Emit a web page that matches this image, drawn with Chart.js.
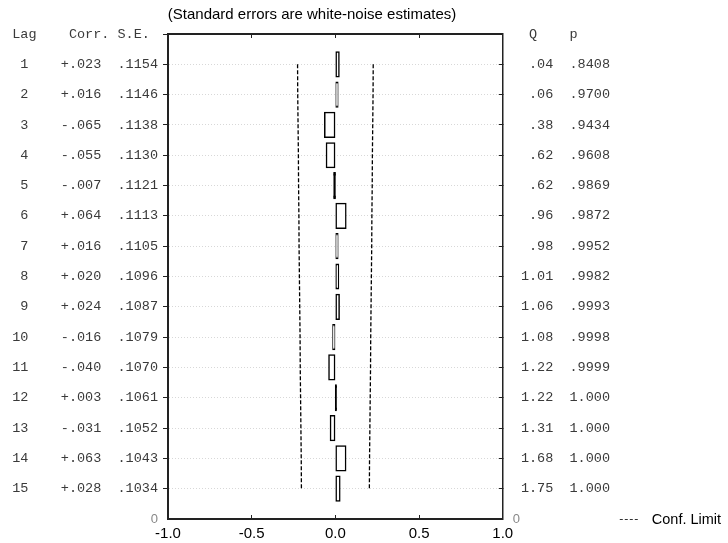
<!DOCTYPE html>
<html>
<head>
<meta charset="utf-8">
<title>Autocorrelation function</title>
<script src="https://cdn.jsdelivr.net/npm/chart.js@4.4.1/dist/chart.umd.min.js"></script>
<style>
  html, body { margin: 0; padding: 0; background: #fff; }
  #wrap { width: 728px; height: 543px; }
</style>
</head>
<body>
<div id="wrap"><canvas id="acfChart" width="728" height="543"></canvas></div>
<script>
// ---- data ----
const lags = [1, 2, 3, 4, 5, 6, 7, 8, 9, 10, 11, 12, 13, 14, 15];
const corr = [0.023, 0.016, -0.065, -0.055, -0.007, 0.064, 0.016, 0.020, 0.024, -0.016, -0.040, 0.003, -0.031, 0.063, 0.028];
const stdErr = [0.1154, 0.1146, 0.1138, 0.1130, 0.1121, 0.1113, 0.1105, 0.1096, 0.1087, 0.1079, 0.1070, 0.1061, 0.1052, 0.1043, 0.1034];
const qStat = [0.04, 0.06, 0.38, 0.62, 0.62, 0.96, 0.98, 1.01, 1.06, 1.08, 1.22, 1.22, 1.31, 1.68, 1.75];
const pValue = [0.8408, 0.9700, 0.9434, 0.9608, 0.9869, 0.9872, 0.9952, 0.9982, 0.9993, 0.9998, 0.9999, 1.000, 1.000, 1.000, 1.000];
const confLimit = [0.226, 0.225, 0.223, 0.221, 0.220, 0.218, 0.217, 0.215, 0.213, 0.211, 0.210, 0.208, 0.206, 0.204, 0.203];
const xTicks = [-1.0, -0.5, 0.0, 0.5, 1.0];

// ---- label helpers (monospaced columns) ----
function pad(s, n) { s = String(s); while (s.length < n) s = ' ' + s; return s; }
function fmtCorr(v) { return (v < 0 ? '-' : '+') + Math.abs(v).toFixed(3).slice(1); }
function fmtSe(v) { return v.toFixed(4).slice(1); }
function fmtQ(v) { return v < 1 ? v.toFixed(2).slice(1) : v.toFixed(2); }
function fmtP(v) { return v < 1 ? v.toFixed(4).slice(1) : v.toFixed(3); }

const leftLabels = ['Lag    Corr. S.E. ']
    .concat(lags.map((l, i) => pad(l, 2) + '    ' + fmtCorr(corr[i]) + '  ' + fmtSe(stdErr[i])))
    .concat(['0']);
const rightLabels = ['  Q    p']
    .concat(lags.map((l, i) => ' ' + pad(fmtQ(qStat[i]), 4) + '  ' + fmtP(pValue[i])))
    .concat(['0']);

const lastIdx = leftLabels.length - 1;
const monoFont = { family: '"Liberation Mono", "DejaVu Sans Mono", monospace', size: 13.5 };
const zeroFont = { family: '"Liberation Sans", Arial, sans-serif', size: 13 };
const axisFont = { family: '"Liberation Sans", Arial, sans-serif', size: 15 };
const isTiny = (c) => c.raw !== null && c.raw !== undefined && Math.abs(c.raw) < 0.01;

// legend drawn next to the bottom right corner, like the original
const confLegend = {
    id: 'confLegend',
    afterDraw(chart) {
        const { ctx, chartArea } = chart;
        const ds = chart.data.datasets[1];
        const y = chartArea.bottom + 0.5;
        const x0 = chartArea.right + 117;
        ctx.save();
        ctx.strokeStyle = '#333';
        ctx.lineWidth = 1;
        ctx.setLineDash([3, 2]);
        ctx.beginPath();
        ctx.moveTo(x0, y);
        ctx.lineTo(x0 + 18, y);
        ctx.stroke();
        ctx.setLineDash([]);
        ctx.fillStyle = '#000';
        ctx.font = '14.5px "Liberation Sans", Arial, sans-serif';
        ctx.textBaseline = 'middle';
        ctx.fillText(ds.label, x0 + 32, y);
        ctx.restore();
    }
};

const ctx = document.getElementById('acfChart');
new Chart(ctx, {
    type: 'bar',
    data: {
        labels: leftLabels,
        datasets: [{
            label: 'Corr.',
            data: [null].concat(corr, [null]),
            // bars thinner than their outline read as solid black strokes
            backgroundColor: (c) => isTiny(c) ? '#000' : '#fff',
            inflateAmount: (c) => isTiny(c) ? 1 : 0.5,
            borderColor: '#000',
            borderWidth: 1.5,
            borderSkipped: false,
            categoryPercentage: 1,
            barPercentage: 0.83,
            indexAxis: 'y',
            xAxisID: 'x',
            yAxisID: 'y',
            order: 2
        }, {
            type: 'line',
            label: 'Conf. Limit',
            data: [null].concat(confLimit.map(v => -v), [null]),
            borderColor: '#000',
            borderWidth: 1.3,
            borderDash: [4, 2],
            pointRadius: 0,
            fill: false,
            tension: 0,
            indexAxis: 'y',
            xAxisID: 'x',
            yAxisID: 'y',
            order: 1
        }, {
            type: 'line',
            label: 'Conf. Limit (upper)',
            data: [null].concat(confLimit, [null]),
            borderColor: '#000',
            borderWidth: 1.3,
            borderDash: [4, 2],
            pointRadius: 0,
            fill: false,
            tension: 0,
            indexAxis: 'y',
            xAxisID: 'x',
            yAxisID: 'y',
            order: 1
        }]
    },
    options: {
        indexAxis: 'y',
        responsive: false,
        animation: false,
        layout: {
            padding: { left: 0, right: 104, top: 0, bottom: -10 }
        },
        plugins: {
            legend: { display: false },
            tooltip: { enabled: false },
            title: {
                display: true,
                text: '(Standard errors are white-noise estimates)',
                color: '#000',
                font: { family: '"Liberation Sans", Arial, sans-serif', size: 15, weight: 'normal' },
                padding: { top: 6, bottom: 10 }
            }
        },
        scales: {
            x: {
                type: 'linear',
                position: 'bottom',
                min: -1,
                max: 1,
                afterBuildTicks: (scale) => { scale.ticks = xTicks.map(v => ({ value: v })); },
                ticks: {
                    callback: (v) => Number(v).toFixed(1),
                    color: '#000',
                    font: axisFont,
                    padding: 10,
                    maxRotation: 0
                },
                grid: { drawOnChartArea: false, tickLength: -4, tickColor: '#222', tickWidth: 1 },
                border: { display: true, color: '#222', width: 2 }
            },
            xTop: {
                type: 'linear',
                position: 'top',
                min: -1,
                max: 1,
                afterBuildTicks: (scale) => { scale.ticks = xTicks.map(v => ({ value: v })); },
                afterFit: (scale) => { scale.height = 0; },
                ticks: { display: false },
                grid: { drawOnChartArea: false, tickLength: -4, tickColor: '#222', tickWidth: 1 },
                border: { display: true, color: '#222', width: 2 }
            },
            y: {
                type: 'category',
                position: 'left',
                offset: false,
                min: 0,
                max: lastIdx,
                // wide text columns: let the axis take the room it needs
                afterFit: (scale) => { scale.width = 168; },
                ticks: {
                    autoSkip: false,
                    padding: 5,
                    font: (c) => c.index === lastIdx ? zeroFont : monoFont,
                    color: (c) => c.index === lastIdx ? '#888' : '#3a3a3a'
                },
                grid: {
                    offset: false,
                    color: (c) => (c.index === 0 || c.index === lastIdx) ? 'rgba(0,0,0,0)' : '#d8d8d8',
                    lineWidth: 1,
                    tickLength: 5,
                    tickColor: (c) => c.index === lastIdx ? 'rgba(0,0,0,0)' : '#222',
                    tickWidth: 1,
                    tickBorderDash: []
                },
                border: { display: true, color: '#222', width: 2, dash: [1, 2] }
            },
            yRight: {
                type: 'category',
                position: 'right',
                labels: rightLabels,
                offset: false,
                min: 0,
                max: lastIdx,
                ticks: {
                    autoSkip: false,
                    padding: 14,
                    font: (c) => c.index === lastIdx ? zeroFont : monoFont,
                    color: (c) => c.index === lastIdx ? '#888' : '#3a3a3a'
                },
                grid: {
                    offset: false,
                    drawOnChartArea: false,
                    tickLength: -4,
                    tickColor: (c) => (c.index === 0 || c.index === lastIdx) ? 'rgba(0,0,0,0)' : '#222',
                    tickWidth: 1
                },
                border: { display: true, color: '#222', width: 1.5 }
            }
        }
    },
    plugins: [confLegend]
});
</script>
</body>
</html>
